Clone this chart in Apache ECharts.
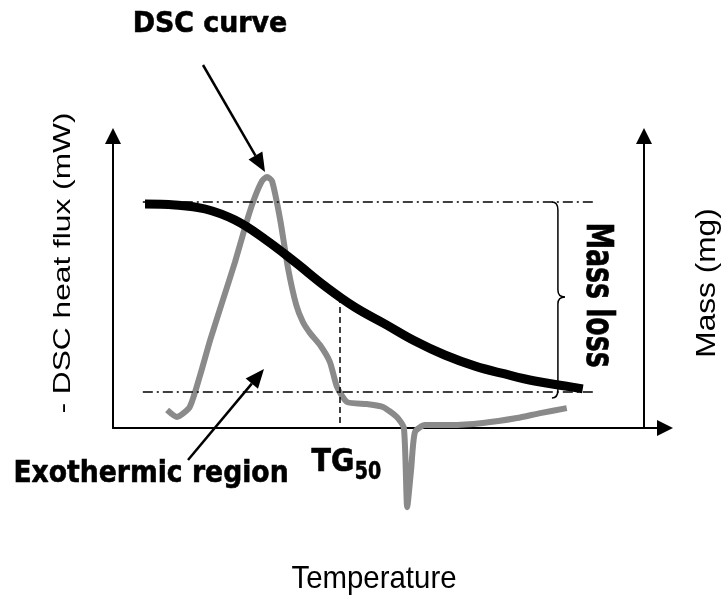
<!DOCTYPE html>
<html>
<head>
<meta charset="utf-8">
<script src="https://cdn.jsdelivr.net/npm/echarts@6/dist/echarts.min.js"></script>
<style>
  html, body { margin: 0; padding: 0; background: #fff; }
  #chart { width: 728px; height: 599px; }
</style>
</head>
<body>
<div id="chart"></div>
<script>
// temperature axis and both y axes are normalised to 0..100
const dscT = [9.8, 11.6, 13.9, 15.8, 17.6, 19.9, 22.1, 24.3, 25.7, 27.0, 27.9, 28.8, 30.3, 31.7, 33.2, 34.4, 35.7, 37.5, 39.3, 40.6, 42.4, 46.0, 48.9, 51.4, 52.7, 53.3, 54.0, 54.7, 56.5, 61.1, 67.0, 73.2, 77.4, 82.2]
const dscV = [6.2, 3.8, 7.2, 18.2, 30.1, 43.8, 56.8, 71.2, 79.1, 84.6, 86.0, 84.6, 71.2, 54.8, 42.1, 36.3, 32.5, 28.4, 22.6, 14.0, 8.9, 8.2, 7.2, 3.8, 0, -27.1, -14.4, -1.4, 1.0, 1.0, 1.7, 3.4, 5.1, 6.8]

const massT = [5.8, 11.2, 16.7, 22.1, 27.5, 33.0, 38.4, 43.8, 49.3, 54.7, 60.1, 65.6, 71.0, 76.4, 81.9, 85.1]
const massV = [76.7, 76.4, 75.0, 71.2, 64.7, 56.8, 48.6, 41.4, 35.6, 29.8, 25.0, 21.2, 18.5, 16.1, 14.4, 13.4]

const massLevels = [77.4, 12.3]   // initial and final mass
const refSpan = [5.4, 87.0]       // extent of the dash-dot guide lines
const tg50 = 41.1
const braceT = 80.6

const chart = echarts.init(document.getElementById('chart'))

const triangle = 'path://M8,0L16,16L0,16Z'
const axisLine = {
  show: true,
  onZero: false,
  symbol: ['none', triangle],
  symbolSize: [16, 16],
  lineStyle: { color: '#000', width: 2 }
}
const hidden = {
  axisTick: { show: false },
  axisLabel: { show: false },
  splitLine: { show: false }
}

const midMass = (massLevels[0] + massLevels[1]) / 2

const option = {
  animation: false,
  grid: { left: 113, right: 63, top: 136, bottom: 171 },
  xAxis: { type: 'value', min: 0, max: 100, axisLine, ...hidden },
  yAxis: [
    { type: 'value', min: 0, max: 100, position: 'left', axisLine, ...hidden },
    { type: 'value', min: 0, max: 100, position: 'right', offset: -21, axisLine, ...hidden }
  ],
  series: [
    {
      type: 'line',
      data: dscT.map((t, i) => [t, dscV[i]]),
      showSymbol: false,
      smooth: 0.2,
      clip: false,
      lineStyle: { color: '#8a8a8a', width: 6 },
      z: 3
    },
    {
      type: 'line',
      yAxisIndex: 1,
      data: massT.map((t, i) => [t, massV[i]]),
      showSymbol: false,
      smooth: 0.4,
      lineStyle: { color: '#000', width: 9 },
      z: 4,
      markLine: {
        silent: true,
        symbol: 'none',
        label: { show: false },
        data: [
          [{ coord: [refSpan[0], massLevels[0]], lineStyle: { type: [10, 4, 2, 4] } }, { coord: [refSpan[1], massLevels[0]] }],
          [{ coord: [refSpan[0], massLevels[1]], lineStyle: { type: [10, 4, 2, 4] } }, { coord: [refSpan[1], massLevels[1]] }],
          [{ coord: [tg50, midMass], lineStyle: { type: [6, 4] } }, { coord: [tg50, 0] }]
        ],
        lineStyle: { color: '#000', width: 1.5 }
      }
    }
  ]
}
chart.setOption(option)

function arrow(x1, y1, x2, y2) {
  const len = Math.hypot(x2 - x1, y2 - y1)
  const ux = (x2 - x1) / len, uy = (y2 - y1) / len
  const hl = 19, hw = 8
  const bx = x2 - ux * hl, by = y2 - uy * hl
  return [
    { type: 'line', shape: { x1, y1, x2: bx, y2: by }, style: { stroke: '#000', lineWidth: 2.5 } },
    { type: 'polygon', shape: { points: [[x2, y2], [bx - uy * hw, by + ux * hw], [bx + uy * hw, by - ux * hw]] }, style: { fill: '#000' } }
  ]
}

function label(text, x, y, opts) {
  const style = {
    text,
    fill: '#000',
    font: (opts.bold ? 'bold ' : '') + opts.size + 'px ' + (opts.bold ? '"DejaVu Sans"' : '"Liberation Sans", Arial'),
    align: 'center',
    verticalAlign: 'middle'
  }
  if (opts.bold) {
    style.stroke = '#000'
    style.lineWidth = 0.5
  }
  return {
    type: 'text',
    x, y,
    rotation: opts.rotation || 0,
    scaleX: opts.sx || 1,
    scaleY: opts.sy || 1,
    style
  }
}

// curly brace spanning the mass loss
const [bx, yTop] = chart.convertToPixel({ xAxisIndex: 0, yAxisIndex: 1 }, [braceT, massLevels[0]])
const yBot = chart.convertToPixel({ xAxisIndex: 0, yAxisIndex: 1 }, [braceT, massLevels[1]])[1]
const yMid = (yTop + yBot) / 2
const braceStyle = { fill: 'none', stroke: '#000', lineWidth: 1.5 }
const curve = (x1, y1, cx, cy, x2, y2) => ({ type: 'bezierCurve', shape: { x1, y1, x2, y2, cpx1: cx, cpy1: cy }, style: braceStyle })
const seg = (x1, y1, x2, y2) => ({ type: 'line', shape: { x1, y1, x2, y2 }, style: braceStyle })
const brace = [
  curve(bx - 6, yTop, bx, yTop, bx, yTop + 8),
  seg(bx, yTop + 8, bx, yMid - 7),
  curve(bx, yMid - 7, bx, yMid, bx + 7, yMid),
  curve(bx + 7, yMid, bx, yMid, bx, yMid + 7),
  seg(bx, yMid + 7, bx, yBot - 2),
  curve(bx, yBot - 2, bx, yBot + 6, bx - 6, yBot + 6)
]

chart.setOption({
  graphic: [
    ...brace,
    ...arrow(203, 65, 265, 172),
    ...arrow(188, 460, 264, 369),
    label('DSC curve', 210, 25, { bold: true, size: 22, sx: 1.22, sy: 1.25 }),
    label('Exothermic region', 151, 474, { bold: true, size: 24, sx: 1.11, sy: 1.25 }),
    label('TG', 333, 463, { bold: true, size: 25, sx: 1.14, sy: 1.25 }),
    label('50', 368, 473, { bold: true, size: 19, sx: 1.0, sy: 1.3 }),
    label('Mass loss', 597, 295, { bold: true, size: 27, sx: 0.99, sy: 1.41, rotation: -Math.PI / 2 }),
    label('- DSC heat flux (mW)', 63, 263, { size: 24, sx: 1.32, sy: 1.0, rotation: Math.PI / 2 }),
    label('Mass (mg)', 707, 283, { size: 28, sx: 1.13, sy: 1.0, rotation: Math.PI / 2 }),
    label('Temperature', 374, 579, { size: 28, sx: 1.05, sy: 1.12 })
  ]
})
</script>
</body>
</html>
